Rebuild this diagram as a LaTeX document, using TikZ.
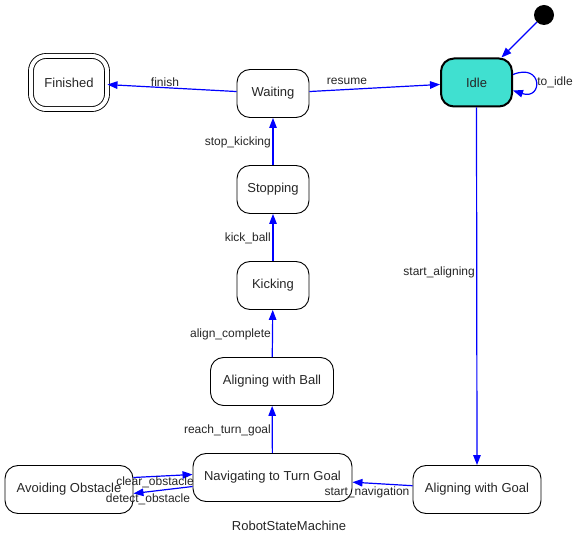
\documentclass[tikz,border=0pt]{standalone}
\usepackage{fontspec}
\setmainfont{Liberation Sans}
\usetikzlibrary{arrows.meta,calc}
\definecolor{turq}{HTML}{40E0D0}
\begin{document}
\begin{tikzpicture}[x=1pt,y=-1pt,
  state/.style={draw=black, line width=0.9pt, rounded corners=13pt, minimum height=48pt,
    inner sep=0pt, font=\fontsize{13}{15}\selectfont, text=black!85},
  trans/.style={draw=blue, line width=1.2pt, -{Triangle[length=10pt,width=7.5pt]}},
  lbl/.style={font=\fontsize{12}{14}\selectfont, text=black!85, inner sep=0pt}]
\useasboundingbox (0,0) rectangle (579,545);

% states
\node[circle, fill=black, minimum size=20pt, inner sep=0pt] (start) at (544,15) {};
\node[state, fill=turq, line width=2pt, minimum width=71pt] (idle) at (476.5,82.5) {Idle};
\node[state, minimum width=72pt] (waiting) at (273,93.5) {Waiting};
\node[state, double, double distance=4pt, line width=0.9pt, minimum width=76pt, minimum height=53pt,
  rounded corners=15pt] (finished) at (69,82.5) {Finished};
\node[state, minimum width=72pt] (stopping) at (273,189.5) {Stopping};
\node[state, minimum width=72pt] (kicking) at (273,285.5) {Kicking};
\node[state, minimum width=123pt] (alball) at (272,381.5) {Aligning with Ball};
\node[state, minimum width=159pt] (nav) at (272.5,477.5) {Navigating to Turn Goal};
\node[state, minimum width=128pt] (avoid) at (69,489.5) {Avoiding Obstacle};
\node[state, minimum width=128pt] (algoal) at (477,489.5) {Aligning with Goal};
\node[font=\fontsize{13}{15}\selectfont, text=black!85] (title) at (289,526) {RobotStateMachine};

% transitions
\draw[trans] (start) -- (idle);
\draw[trans] ($(idle.east)+(0,-8)$) .. controls +(30,-12) and +(30,10) .. ($(idle.east)+(0,8)$);
\draw[trans] (waiting) -- (idle);
\draw[trans] (waiting) -- (finished);
\draw[trans] (stopping) -- (waiting);
\draw[trans] (kicking) -- (stopping);
\draw[trans] (alball) -- (kicking);
\draw[trans] (nav) -- (alball);
\draw[trans] (idle.south) -- (algoal.north);
\draw[trans] (algoal) -- (nav);
\draw[trans] ($(avoid.east)+(0,-12)$) -- ($(nav.west)+(0,-3)$);
\draw[trans] ($(nav.west)+(0,9)$) -- ($(avoid.east)+(0,4)$);

% transition labels
\node[lbl] (l-toidle) at (555,82) {to\_idle};
\node[lbl] (l-resume) at (347,81) {resume};
\node[lbl] (l-finish) at (165,82) {finish};
\node[lbl, anchor=east] (l-stop) at (271,142) {stop\_kicking};
\node[lbl, anchor=east] (l-kick) at (271,238) {kick\_ball};
\node[lbl, anchor=east] (l-align) at (271,334) {align\_complete};
\node[lbl, anchor=east] (l-reach) at (271,430) {reach\_turn\_goal};
\node[lbl, anchor=east] (l-startal) at (475,272) {start\_aligning};
\node[lbl] (l-startnav) at (367,492) {start\_navigation};
\node[lbl] (l-clear) at (155,482) {clear\_obstacle};
\node[lbl] (l-detect) at (148,499) {detect\_obstacle};
\end{tikzpicture}
\end{document}
